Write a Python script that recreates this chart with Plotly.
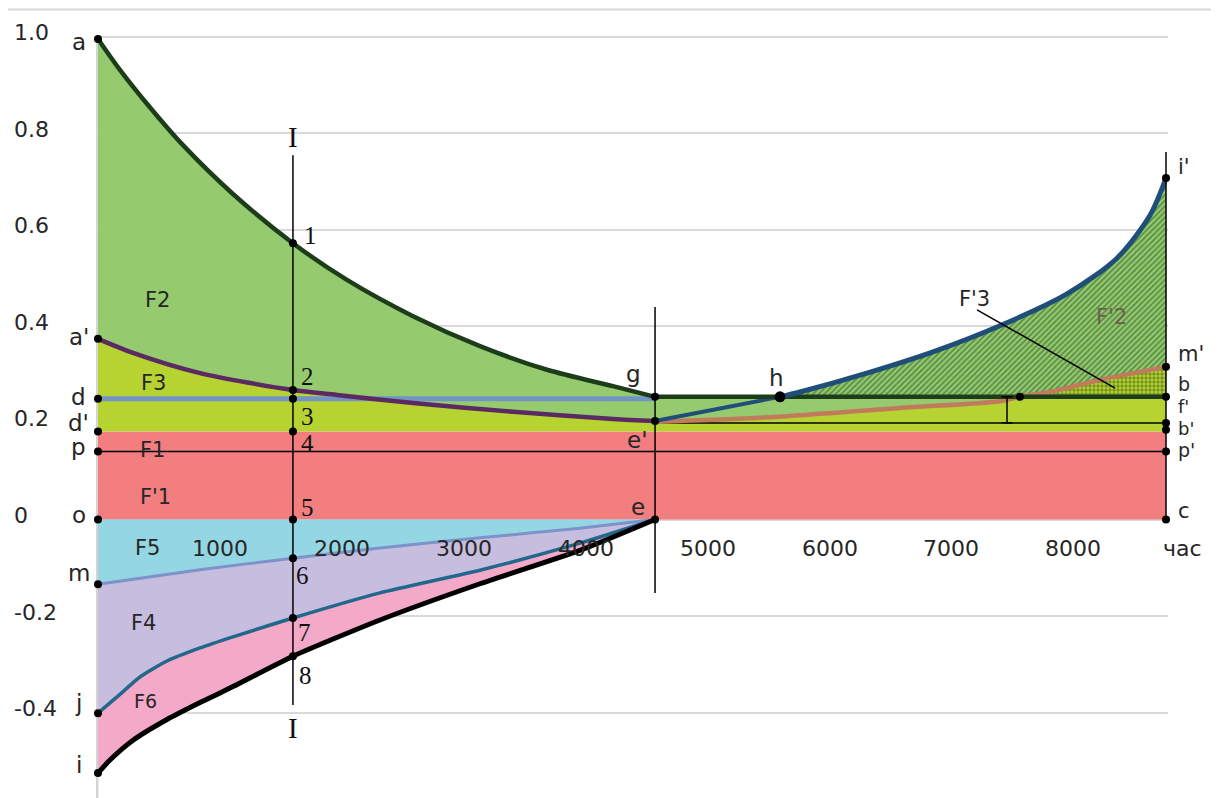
import plotly.graph_objects as go

# ---------------- data (hours of year, relative value) ----------------
X_END = 8760          # right border (c, b, b', p', m', i')
X_E = 4569            # section through g, e', e
X_I = 1599            # section I-I
X_H = 5594            # point h
X_FBAR = 7456         # dimension mark f

B_LEVEL = 0.254       # g-h-b level
D_LEVEL = 0.250       # d line
R_LEVEL = 0.182       # d' level (top of F'1)
P_LEVEL = 0.141       # p-p'
EB_LEVEL = 0.200      # e'-b'
B2_LEVEL = 0.186      # second b' dot

upper_x = [0, 180, 427, 697, 1107, 1599, 2042, 2584, 3133, 3683, 4224, 4569]
upper_y = [0.995, 0.931, 0.853, 0.775, 0.674, 0.572, 0.496, 0.421, 0.359, 0.310, 0.276, 0.254]

rise_x = [5594, 5758, 6307, 6849, 7398, 7948, 8358, 8629, 8760]
rise_y = [0.254, 0.264, 0.303, 0.347, 0.401, 0.467, 0.541, 0.630, 0.707]

purple_x = [0, 287, 837, 1599, 1960, 2584, 3404, 4224, 4569]
purple_y = [0.374, 0.345, 0.303, 0.268, 0.258, 0.241, 0.223, 0.208, 0.204]

brown_x = [4569, 5536, 6578, 7398, 7562, 7808, 8219, 8760]
brown_y = [0.202, 0.212, 0.231, 0.245, 0.254, 0.264, 0.289, 0.316]
F_INDEX = 4           # brown crosses b level at point f

m_x = [0, 837, 1599, 2313, 3133, 3953, 4569]
m_y = [-0.134, -0.104, -0.080, -0.059, -0.038, -0.018, 0.0]

j_x = [0, 180, 344, 566, 837, 1107, 1599, 2313, 3133, 3953, 4569]
j_y = [-0.401, -0.362, -0.326, -0.293, -0.266, -0.243, -0.204, -0.152, -0.105, -0.049, 0.0]

i_x = [0, 98, 287, 566, 837, 1107, 1599, 2313, 3133, 3953, 4569]
i_y = [-0.525, -0.498, -0.457, -0.414, -0.379, -0.346, -0.283, -0.208, -0.133, -0.064, 0.0]

y_ticks = [-0.4, -0.2, 0, 0.2, 0.4, 0.6, 0.8, 1.0]
y_tick_text = ["-0.4", "-0.2", "0", "0.2", "0.4", "0.6", "0.8", "1.0"]
x_ticks = [1000, 2000, 3000, 4000, 5000, 6000, 7000, 8000]

# ---------------- colours ----------------
C_RED = "#f27e80"
C_YG = "#b6d332"
C_GREEN = "#95cb6e"
C_DKGREEN = "#1d3d1a"
C_CYAN = "#95d6e5"
C_LAV = "#c7bddf"
C_PINK = "#f4a9c8"
C_PURPLE = "#5b2a62"
C_DBLUE = "#7193c5"
C_MLINE = "#7b93c9"
C_JLINE = "#22688c"
C_RISE = "#1f4e79"
C_BROWN = "#c07a5c"
TXT = "#262626"
SANS = "DejaVu Sans"
SERIF = "Liberation Serif"

fig = go.Figure()


def poly(xs, ys, color, pattern=None):
    kw = dict(x=xs, y=ys, mode="lines", fill="toself", fillcolor=color,
              line=dict(width=0, color=color), hoverinfo="skip")
    if pattern:
        kw["fillpattern"] = pattern
    fig.add_trace(go.Scatter(**kw))


def line(xs, ys, color, width, shape="linear", smoothing=0.8):
    fig.add_trace(go.Scatter(x=xs, y=ys, mode="lines",
                             line=dict(color=color, width=width, shape=shape, smoothing=smoothing),
                             hoverinfo="skip"))


# F'1 red band
poly([0, X_END, X_END, 0], [0, 0, R_LEVEL, R_LEVEL], C_RED)
# yellow-green F1/F3 left
poly(purple_x + [X_E, 0], purple_y + [R_LEVEL, R_LEVEL], C_YG)
# yellow-green right
bx_f = brown_x[:F_INDEX + 1]
by_f = brown_y[:F_INDEX + 1]
poly([X_E, X_END, X_END] + bx_f[::-1],
     [R_LEVEL, R_LEVEL, B_LEVEL] + [B_LEVEL] + by_f[::-1][1:], C_YG)
# green F2 left
poly(upper_x + purple_x[::-1], upper_y + purple_y[::-1], C_GREEN)
# green right (between brown and b level, e..f)
poly([X_E] + bx_f[::-1][:1] + bx_f[::-1],
     [B_LEVEL, B_LEVEL] + by_f[::-1], C_GREEN)
# hatched F'2
bx_r = brown_x[F_INDEX:]
by_r = brown_y[F_INDEX:]
poly(rise_x + bx_r[::-1] + [X_H],
     rise_y + by_r[::-1] + [B_LEVEL], C_GREEN,
     pattern=dict(shape="/", bgcolor=C_GREEN, fgcolor="#1f4a1f", size=4, solidity=0.45))
# dotted F'3
poly(bx_r + [X_END], by_r + [B_LEVEL], C_YG,
     pattern=dict(shape=".", bgcolor=C_YG, fgcolor="#34500f", size=4, solidity=0.55))
# F5 cyan
poly([0, X_E] + m_x[::-1], [0, 0] + m_y[::-1], C_CYAN)
# F4 lavender
poly(m_x + j_x[::-1], m_y + j_y[::-1], C_LAV)
# F6 pink
poly(j_x + i_x[::-1], j_y + i_y[::-1], C_PINK)

# thin black horizontals
line([0, X_END], [P_LEVEL, P_LEVEL], "black", 1.5)
line([X_E, X_END], [EB_LEVEL, EB_LEVEL], "black", 1.5)
# d line
line([0, X_E], [D_LEVEL, D_LEVEL], C_DBLUE, 5)
# purple curve a'-2-e'
line(purple_x, purple_y, C_PURPLE, 4.5, "spline")
# brown e'-f-m'
line(brown_x, brown_y, C_BROWN, 4.5, "spline")
# blue e'-h
line([X_E, X_H], [purple_y[-1], B_LEVEL], C_RISE, 4)
# flat g-h-b
line([X_E, X_END], [B_LEVEL, B_LEVEL], C_DKGREEN, 4.5)
# upper curve a-1-g
line(upper_x, upper_y, C_DKGREEN, 4.5, "spline")
# rising curve h-i'
line(rise_x, rise_y, C_RISE, 5, "spline")
# lower curves
line(m_x, m_y, C_MLINE, 3, "spline", 0.6)
line(j_x, j_y, C_JLINE, 3.5, "spline", 0.6)
line(i_x, i_y, "black", 5, "spline", 0.6)

# vertical sections
line([X_I, X_I], [0.754, -0.384], "black", 1.5)
line([X_E, X_E], [0.44, -0.152], "black", 1.5)
line([X_END, X_END], [0.761, 0], "black", 1.5)

# f dimension mark
fig.add_trace(go.Scatter(x=[X_FBAR, X_FBAR], y=[B_LEVEL, EB_LEVEL], mode="lines+markers",
                         line=dict(color="black", width=1.5),
                         marker=dict(symbol="line-ew-open", size=8, line=dict(width=1.5, color="black")),
                         hoverinfo="skip"))

# F'3 leader
line([7210, 8342], [0.434, 0.272], "black", 1.5)

# points
pts_x = [0, 0, 0, 0, 0, 0, 0, 0, 0,
         X_I, X_I, X_I, X_I, X_I, X_I, X_I, X_I,
         X_E, X_E, X_E, brown_x[F_INDEX],
         X_END, X_END, X_END, X_END, X_END, X_END, X_END]
pts_y = [upper_y[0], purple_y[0], D_LEVEL, R_LEVEL, P_LEVEL, 0, m_y[0], j_y[0], i_y[0],
         upper_y[5], purple_y[3], D_LEVEL, R_LEVEL, 0, m_y[2], j_y[6], i_y[6],
         B_LEVEL, purple_y[-1], 0, B_LEVEL,
         rise_y[-1], brown_y[-1], B_LEVEL, EB_LEVEL, B2_LEVEL, P_LEVEL, 0]
fig.add_trace(go.Scatter(x=pts_x, y=pts_y, mode="markers",
                         marker=dict(color="black", size=8), hoverinfo="skip", cliponaxis=False))
fig.add_trace(go.Scatter(x=[X_H], y=[B_LEVEL], mode="markers",
                         marker=dict(color="black", size=11), hoverinfo="skip"))

ann = []


def txt(x, y, s, size=21, family=SANS, xref="x", xanchor="center", color=TXT, yshift=0):
    ann.append(dict(x=x, y=y, text=s, xref=xref, yref="y", showarrow=False,
                    xanchor=xanchor, yanchor="middle", yshift=yshift,
                    font=dict(family=family, size=size, color=color)))


# y tick labels
for v, s in zip(y_ticks, y_tick_text):
    txt(-0.0784, v, s, size=22, xref="paper", xanchor="left", yshift=4)
# x tick labels
for v in x_ticks:
    txt(v, 0, str(v), size=22, yshift=-29)
txt(1.0131, 0, "час", size=22, xref="paper", yshift=-29)

# left letters
for y, s in [(0.989, "a"), (0.378, "a'"), (0.254, "d"), (0.200, "d'"), (0.150, "p"),
             (0.009, "o"), (-0.111, "m"), (-0.380, "j"), (-0.508, "i")]:
    txt(-0.0159, y, s, size=23, xref="paper")
# right letters
for y, s, sz in [(0.730, "i'", 21), (0.343, "m'", 21), (0.280, "b", 19), (0.234, "f'", 18),
                 (0.189, "b'", 18), (0.143, "p'", 19), (0.018, "c", 21)]:
    txt(1.0075, y, s, size=sz, xref="paper", xanchor="left")
# section numbers
for x, y, s in [(1739, 0.587, "1"), (1722, 0.296, "2"), (1722, 0.213, "3"), (1722, 0.158, "4"),
                (1722, 0.024, "5"), (1681, -0.115, "6"), (1690, -0.233, "7"), (1706, -0.324, "8")]:
    txt(x, y, s, size=25, family=SERIF, color="#111111")
txt(X_I, 0.792, "I", size=29, family=SERIF, color="#111111")
txt(X_I, -0.432, "I", size=29, family=SERIF, color="#111111")
# point letters
txt(4396, 0.301, "g", size=23)
txt(5569, 0.293, "h", size=23)
txt(4421, 0.165, "e'", size=23)
txt(4429, 0.026, "e", size=23)
# area names
for x, y, s, sz in [(492, 0.454, "F2", 21), (459, 0.282, "F3", 21), (451, 0.144, "F1", 21),
                    (468, 0.047, "F'1", 21), (402, -0.059, "F5", 21), (377, -0.214, "F4", 21),
                    (386, -0.375, "F6", 19), (7193, 0.457, "F'3", 21)]:
    txt(x, y, s, size=sz)
txt(8317, 0.419, "F'2", size=21, color="#6b6050")

fig.update_layout(
    width=1211, height=790,
    margin=dict(l=88, r=51, t=0, b=0, pad=0),
    paper_bgcolor="white", plot_bgcolor="white",
    showlegend=False,
    annotations=ann,
    xaxis=dict(range=[-16.4, 8776.4], showgrid=False, zeroline=False, showticklabels=False,
               showline=False, ticks="", fixedrange=True),
    yaxis=dict(range=[-0.5766, 1.059], tickvals=y_ticks, showticklabels=False, ticks="",
               showgrid=True, gridcolor="#d9d9d9", gridwidth=2, zeroline=False,
               showline=False, fixedrange=True),
    shapes=[
        dict(type="line", xref="paper", yref="paper", x0=-0.1, x1=1.1, y0=0.998, y1=0.998,
             line=dict(color="#d9d9d9", width=2), layer="below"),
        dict(type="line", xref="x", yref="y", x0=-12, x1=-12, y0=-0.5766, y1=0.99,
             line=dict(color="#d4d4d4", width=4), layer="below"),
    ],
)

fig.write_html("out.html")
